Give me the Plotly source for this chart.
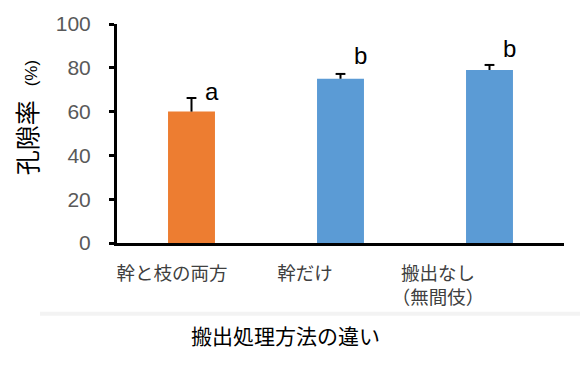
import plotly.graph_objects as go

categories = ["幹と枝の両方", "幹だけ", "搬出なし<br>（無間伎）"]
porosity = [60, 75, 79]
errors = [6.2, 2.2, 2.3]
sig_letters = ["a", "b", "b"]
bar_colors = ["#ED7D31", "#5B9BD5", "#5B9BD5"]
y_ticks = [0, 20, 40, 60, 80, 100]
x_title = "搬出処理方法の違い"
y_title = "孔隙率&nbsp;&nbsp;<span style='font-size:17px'>(%)</span>"

FONT = "Liberation Sans, Arial, Noto Sans CJK JP"
idx = list(range(len(categories)))
tops = [v + e for v, e in zip(porosity, errors)]

fig = go.Figure()
fig.add_trace(go.Bar(
    x=idx, y=porosity, width=0.315,
    marker=dict(color=bar_colors, line=dict(width=0)),
    error_y=dict(type="data", array=errors, symmetric=False,
                 arrayminus=[0] * len(errors), color="black",
                 thickness=2, width=0),
    hoverinfo="skip",
))
# error bar caps (top only)
fig.add_trace(go.Scatter(x=idx, y=tops, mode="markers",
                         marker=dict(symbol="line-ew-open", size=7, color="black",
                                     line=dict(color="black", width=2)),
                         hoverinfo="skip", showlegend=False))
# invisible helper trace for the label axis
fig.add_trace(go.Scatter(x=idx, y=[0] * len(idx), xaxis="x2", mode="markers",
                         marker=dict(opacity=0), hoverinfo="skip", showlegend=False))

shifts = {0: 7, 1: 18, 2: 16}
for i, (t, s) in enumerate(zip(tops, sig_letters)):
    fig.add_annotation(x=i, y=t, text=s, showarrow=False, xref="x", yref="y",
                       xshift=20, yshift=shifts[i], yanchor="middle",
                       font=dict(family=FONT, size=24, color="black"))

fig.add_annotation(x=(285 - 117) / 447, y=-(338 - 243) / 223, xref="paper", yref="paper",
                   text=x_title, showarrow=False, xanchor="center", yanchor="middle",
                   font=dict(family=FONT, size=21, color="black"))

fig.add_annotation(x=(28 - 117) / 447, y=(243 - 116) / 223, xref="paper", yref="paper",
                   text=y_title, showarrow=False, textangle=-90,
                   xanchor="center", yanchor="middle",
                   font=dict(family=FONT, size=25, color="black"))

fig.add_shape(type="line", xref="paper", yref="paper",
              x0=-(117 - 40) / 447, x1=1.04, y0=-(315 - 243) / 223, y1=-(315 - 243) / 223,
              line=dict(color="#f3f3f3", width=4))

fig.update_layout(
    width=580, height=369,
    margin=dict(l=117, r=16, t=20, b=126),
    paper_bgcolor="white", plot_bgcolor="white",
    showlegend=False,
    font=dict(family=FONT),
    xaxis=dict(range=[-0.5, 2.5], showticklabels=False, ticks="",
               showline=True, linecolor="black", linewidth=3,
               showgrid=False, zeroline=False, fixedrange=True),
    xaxis2=dict(overlaying="x", anchor="y", side="bottom", type="linear",
                range=[(117 - 172) / 133, (564 - 172) / 133],
                tickvals=idx, ticktext=categories,
                ticks="outside", ticklen=14, tickcolor="rgba(0,0,0,0)",
                tickfont=dict(family=FONT, size=18.5, color="#404040"),
                showline=False, showgrid=False, zeroline=False),
    yaxis=dict(range=[0, 100], tickvals=y_ticks,
               ticks="outside", ticklen=5, tickwidth=3, tickcolor="black",
               showline=True, linecolor="black", linewidth=3,
               tickfont=dict(family=FONT, size=21, color="#595959"),
               ticklabelstandoff=14,
               showgrid=False, zeroline=False),
)

fig.write_html("out.html", config={"displayModeBar": False},
               post_script="document.body.style.margin='0';")
